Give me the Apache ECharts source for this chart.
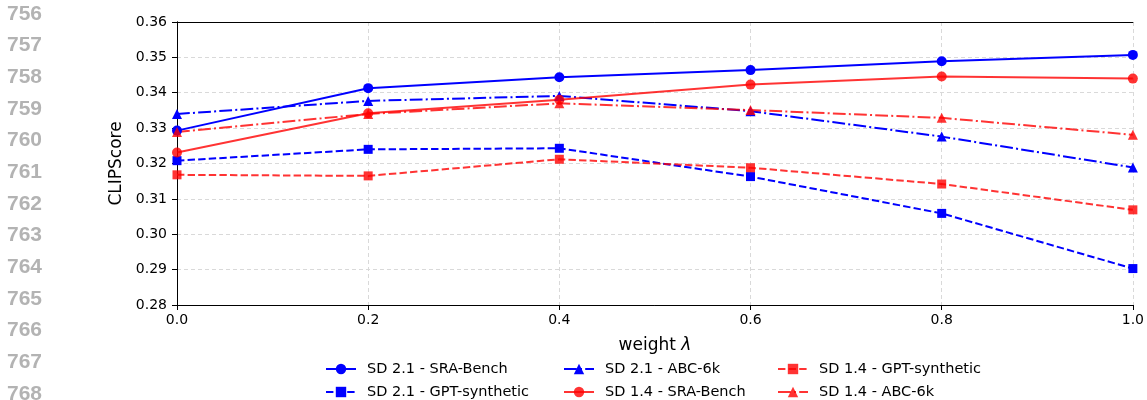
<!DOCTYPE html>
<html>
<head>
<meta charset="utf-8">
<script src="https://cdn.jsdelivr.net/npm/echarts@6/dist/echarts.min.js"></script>
<style>
html,body{margin:0;padding:0;background:#fff;}
#c{width:1147px;height:400px;}
</style>
</head>
<body>
<div id="c"></div>
<script>
const weights = [0.0, 0.2, 0.4, 0.6, 0.8, 1.0];
const sd21SRA = [0.3293, 0.3413, 0.3444, 0.3464, 0.3489, 0.3507];
const sd21GPT = [0.3208, 0.3240, 0.3243, 0.3163, 0.3059, 0.2903];
const sd21ABC = [0.3340, 0.3377, 0.3391, 0.3348, 0.3276, 0.3189];
const sd14SRA = [0.3231, 0.3342, 0.3380, 0.3423, 0.3446, 0.3440];
const sd14GPT = [0.3168, 0.3165, 0.3212, 0.3188, 0.3142, 0.3069];
const sd14ABC = [0.3289, 0.3340, 0.3370, 0.3351, 0.3329, 0.3281];
const seriesNames = ['SD 2.1 - SRA-Bench','SD 2.1 - GPT-synthetic','SD 2.1 - ABC-6k','SD 1.4 - SRA-Bench','SD 1.4 - GPT-synthetic','SD 1.4 - ABC-6k'];
const lineNumbers = ['756','757','758','759','760','761','762','763','764','765','766','767','768'];

const BLUE = '#0000ff';
const RED = 'rgba(255,0,0,0.8)';
const FONT = 'DejaVu Sans';
const SOLID = 'solid';
const DASHED = [7.4, 3.2];
const DASHDOT = [12.8, 3.2, 2, 3.2];

function mk(name, vals, color, dash, symbol, size) {
  return {
    name: name, type: 'line',
    xAxisIndex: 0, yAxisIndex: 0,
    data: weights.map((w, i) => [w, vals[i]]),
    symbol: symbol, symbolSize: size,
    lineStyle: { color: color, width: 2, type: dash },
    itemStyle: { color: color },
    clip: true,
    animation: false
  };
}

const series = [
  mk(seriesNames[0], sd21SRA, BLUE, SOLID, 'circle', 10),
  mk(seriesNames[1], sd21GPT, BLUE, DASHED, 'rect', 9),
  mk(seriesNames[2], sd21ABC, BLUE, DASHDOT, 'triangle', 10),
  mk(seriesNames[3], sd14SRA, RED, SOLID, 'circle', 10),
  mk(seriesNames[4], sd14GPT, RED, DASHED, 'rect', 9),
  mk(seriesNames[5], sd14ABC, RED, DASHDOT, 'triangle', 10)
];

function legendCol(left, items) {
  return {
    orient: 'vertical', left: left, top: 361, height: 60, padding: 0,
    itemWidth: 30, itemHeight: 13, itemGap: 7,
    data: items,
    selectedMode: false,
    textStyle: { fontFamily: FONT, fontSize: 14.5, color: '#000', lineHeight: 16, padding: [0, 0, 0, 6] }
  };
}

const graphics = lineNumbers.map((t, i) => ({
  type: 'text', left: 7, top: 13.3 + i * 31.67 - 10,
  style: { text: t, fill: '#b3b3b3', fontSize: 21, fontWeight: 'bold', fontFamily: 'Liberation Sans' }
}));

const gridLine = { show: true, lineStyle: { color: '#d9d9d9', type: [4, 3], width: 1 } };
const spine = { show: true, lineStyle: { color: '#000', width: 1 } };

const chart = echarts.init(document.getElementById('c'), null, { renderer: 'canvas' });
chart.setOption({
  animation: false,
  backgroundColor: '#fff',
  grid: { left: 177, right: 13, top: 22, bottom: 95 },
  xAxis: [{
    type: 'value', min: 0, max: 1, interval: 0.2,
    name: 'weight {i|λ}', nameLocation: 'middle', nameGap: 32,
    nameTextStyle: { fontFamily: FONT, fontSize: 17, color: '#000', rich: { i: { fontFamily: FONT, fontSize: 17, fontStyle: 'italic', color: '#000' } } },
    axisLine: spine,
    axisTick: { show: true, length: 5, lineStyle: { color: '#000' } },
    axisLabel: { fontFamily: FONT, fontSize: 14, color: '#000', margin: 8, formatter: v => v.toFixed(1) },
    splitLine: gridLine
  }, {
    type: 'value', min: 0, max: 1, interval: 0.2, position: 'top',
    axisLine: spine, axisTick: { show: false }, axisLabel: { show: false }, splitLine: { show: false }
  }],
  yAxis: [{
    type: 'value', min: 0.28, max: 0.36, interval: 0.01,
    name: 'CLIPScore', nameLocation: 'middle', nameGap: 46,
    nameTextStyle: { fontFamily: FONT, fontSize: 17, color: '#000' },
    axisLine: spine,
    axisTick: { show: true, length: 5, lineStyle: { color: '#000' } },
    axisLabel: { fontFamily: FONT, fontSize: 14, color: '#000', margin: 10, formatter: v => v.toFixed(2) },
    splitLine: gridLine
  }, {
    type: 'value', min: 0.28, max: 0.36, interval: 0.01, position: 'right',
    axisLine: spine, axisTick: { show: false }, axisLabel: { show: false }, splitLine: { show: false }
  }],
  legend: [
    legendCol(325, [seriesNames[0], seriesNames[1]]),
    legendCol(563, [seriesNames[2], seriesNames[3]]),
    legendCol(777, [seriesNames[4], seriesNames[5]])
  ],
  graphic: graphics,
  series: series
});
</script>
</body>
</html>
